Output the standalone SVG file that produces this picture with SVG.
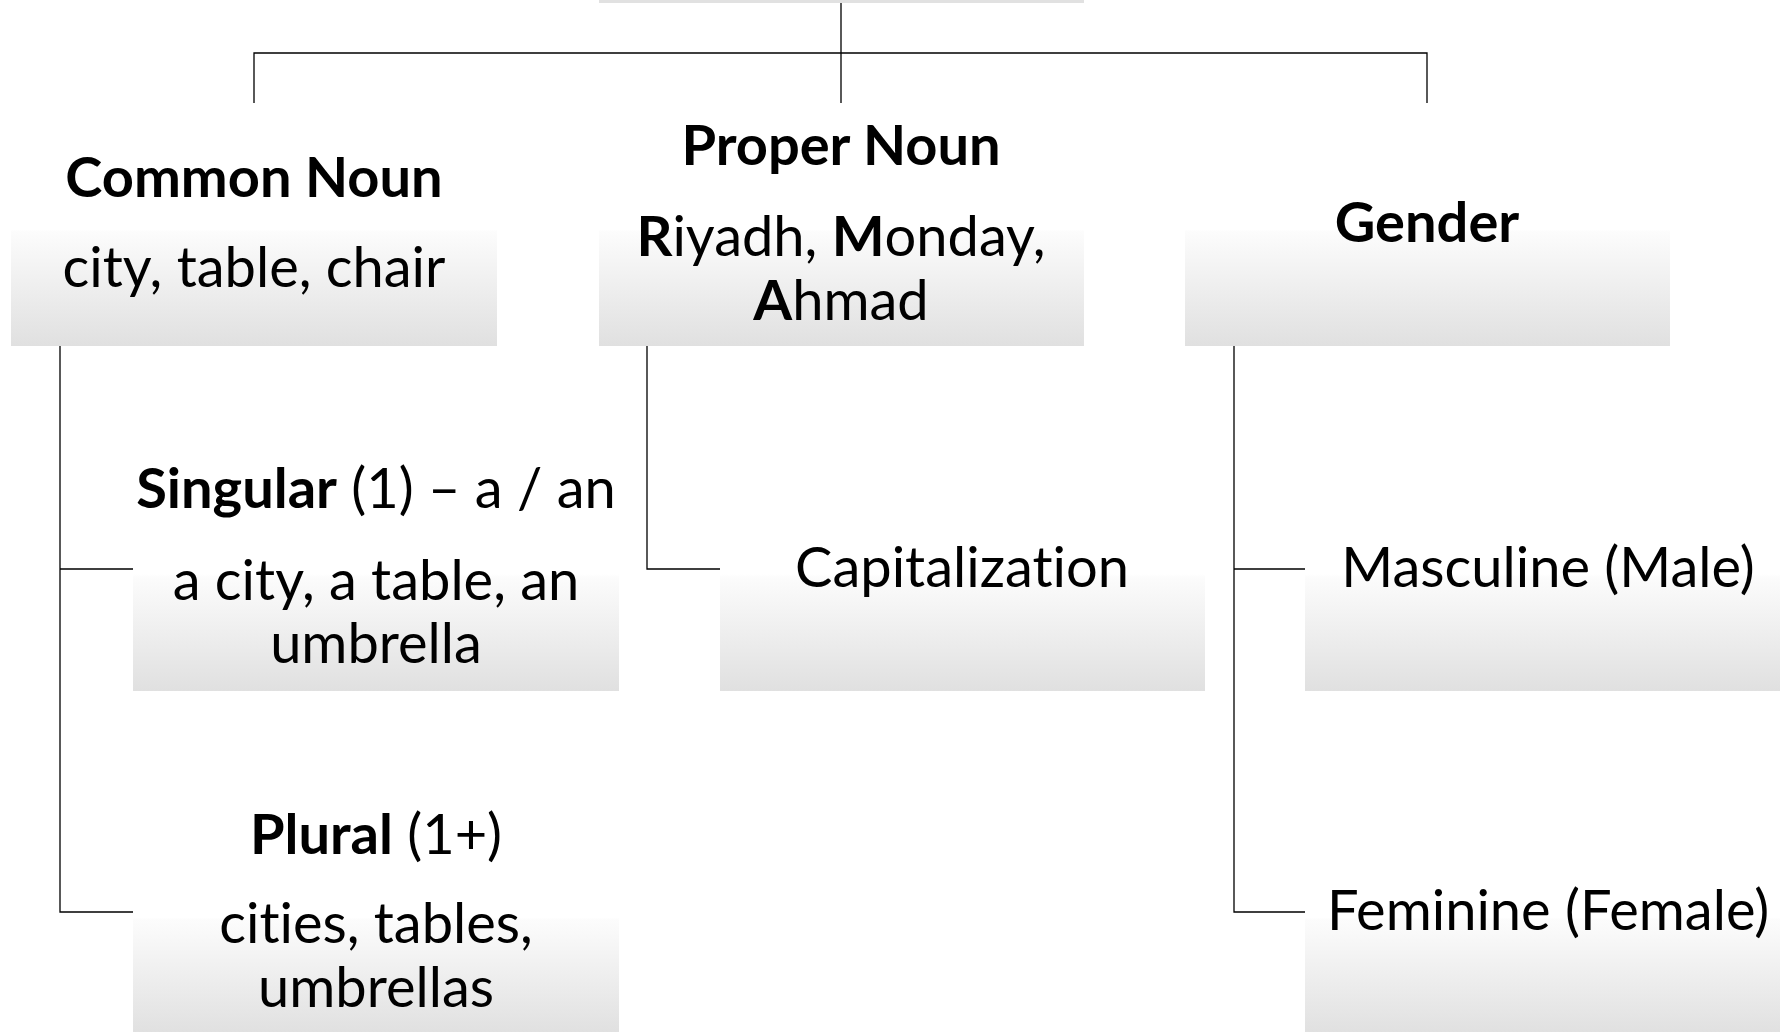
<svg xmlns="http://www.w3.org/2000/svg" width="1780" height="1032" viewBox="0 0 1780 1032">
<defs>
<linearGradient id="g" x1="0" y1="0" x2="0" y2="1">
<stop offset="0" stop-color="#ffffff"/>
<stop offset="0.52" stop-color="#ffffff"/>
<stop offset="0.53" stop-color="#fcfcfc"/>
<stop offset="1" stop-color="#e0e0e0"/>
</linearGradient>
<style>
.box{fill:url(#g);}
.t{font-family:Lato,"Liberation Sans",sans-serif;font-size:56px;fill:#000;text-anchor:middle;font-variant-ligatures:none;font-feature-settings:"liga" 0;}
.b{font-weight:bold;}
.c{fill:none;stroke:#000;stroke-width:1.3;}
</style>
</defs>
<rect width="1780" height="1032" fill="#fff"/>
<g id="root"><rect x="599" y="-240" width="485" height="243" fill="#e1e1e1"/></g>
<g id="connectors">
<path class="c" d="M841 3V103M254 103V53H1427V103"/>
<path class="c" d="M60 346V912H133M60 569H133"/>
<path class="c" d="M647 346V569H720"/>
<path class="c" d="M1234 346V912H1305M1234 569H1305"/>
</g>
<g id="common-noun">
<rect class="box" x="11" y="103" width="486" height="243"/>
<text class="t b" x="254" y="197">Common Noun</text>
<text class="t" x="254" y="287">city, table, chair</text>
</g>
<g id="proper-noun">
<rect class="box" x="599" y="103" width="485" height="243"/>
<text class="t b" x="841" y="165">Proper Noun</text>
<text class="t" x="841" y="256"><tspan class="b">R</tspan>iyadh, <tspan class="b">M</tspan>onday,</text>
<text class="t" x="841" y="320"><tspan class="b">A</tspan>hmad</text>
</g>
<g id="gender">
<rect class="box" x="1185" y="103" width="485" height="243"/>
<text class="t b" x="1427" y="242">Gender</text>
</g>
<g id="singular">
<rect class="box" x="133" y="448" width="486" height="243"/>
<text class="t" x="376" y="508"><tspan class="b">Singular</tspan> (1) – a / an</text>
<text class="t" x="376" y="600">a city, a table, an</text>
<text class="t" x="376" y="663">umbrella</text>
</g>
<g id="plural">
<rect class="box" x="133" y="791" width="486" height="243"/>
<text class="t" x="376" y="854"><tspan class="b">Plural</tspan> (1+)</text>
<text class="t" x="376" y="943">cities, tables,</text>
<text class="t" x="376" y="1007">umbrellas</text>
</g>
<g id="capitalization">
<rect class="box" x="720" y="448" width="485" height="243"/>
<text class="t" x="962" y="587">Capitalization</text>
</g>
<g id="masculine">
<rect class="box" x="1305" y="448" width="486" height="243"/>
<text class="t" x="1548" y="587">Masculine (Male)</text>
</g>
<g id="feminine">
<rect class="box" x="1305" y="791" width="486" height="243"/>
<text class="t" x="1548" y="930">Feminine (Female)</text>
</g>
</svg>
